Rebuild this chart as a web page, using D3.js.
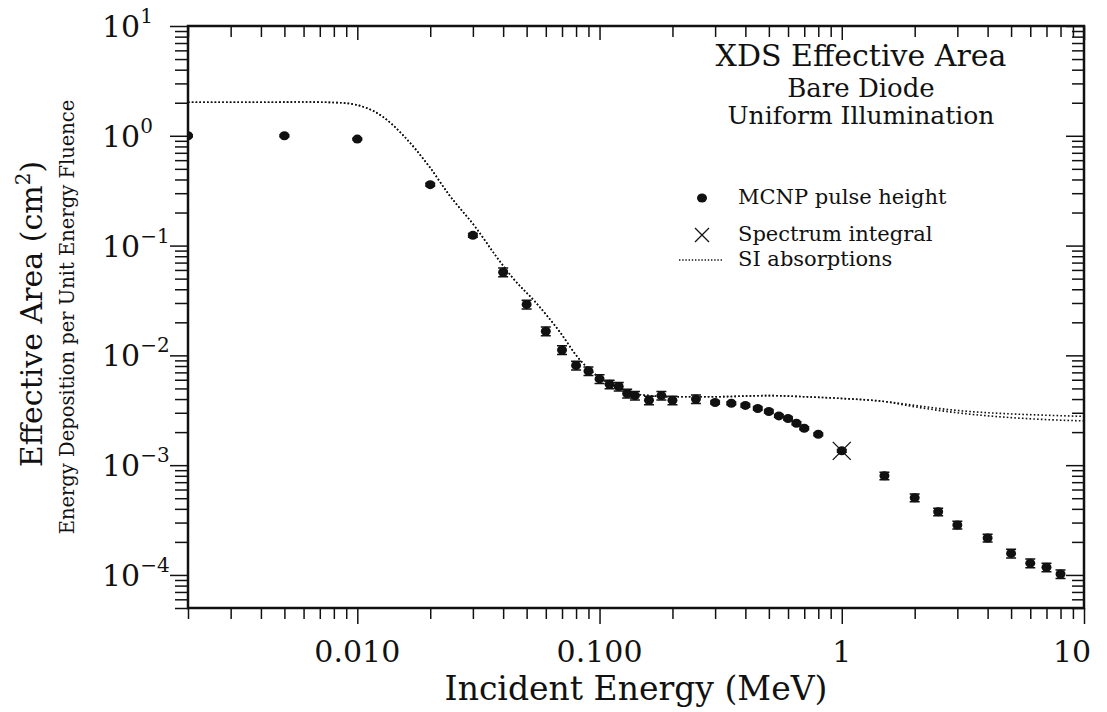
<!DOCTYPE html>
<html lang="en">
<head>
<meta charset="utf-8">
<title>XDS Effective Area</title>
<script src="https://cdn.jsdelivr.net/npm/d3@7/dist/d3.min.js"></script>
<style>
  body { margin: 0; background: #fff; }
  svg text { font-family: "DejaVu Serif", "Liberation Serif", serif; fill: #111; }
  .tick line { stroke: #111; stroke-width: 1.5; }
</style>
</head>
<body>
<div id="chart"></div>
<script>
// MCNP pulse height results (energy MeV, effective area cm^2, relative error)
const mcnpEnergy = [0.002, 0.005, 0.01, 0.02, 0.03, 0.04, 0.05, 0.06, 0.07, 0.08, 0.09, 0.1,
  0.11, 0.12, 0.13, 0.14, 0.16, 0.18, 0.2, 0.25, 0.3, 0.35, 0.4, 0.45, 0.5, 0.55, 0.6, 0.65,
  0.7, 0.8, 1.0, 1.5, 2, 2.5, 3, 4, 5, 6, 7, 8];
const mcnpArea = [1.0, 1.0, 0.933, 0.359, 0.124, 0.0572, 0.0291, 0.0166, 0.0112, 0.0081, 0.0072, 0.0061,
  0.00545, 0.0052, 0.0045, 0.0043, 0.0039, 0.0043, 0.0039, 0.0040, 0.00372, 0.00366, 0.0035, 0.00328,
  0.00308, 0.00281, 0.00266, 0.00241, 0.00217, 0.00191, 0.00135, 0.0008, 0.000505, 0.000376, 0.000285,
  0.000217, 0.000157, 0.000128, 0.0001175, 0.000102];
const mcnpErr = [0.02, 0.02, 0.02, 0.03, 0.04, 0.09, 0.09, 0.09, 0.09, 0.09, 0.09, 0.09,
  0.09, 0.09, 0.09, 0.09, 0.09, 0.09, 0.09, 0.09, 0.03, 0.03, 0.03, 0.03, 0.03, 0.03, 0.03, 0.03,
  0.03, 0.03, 0.03, 0.08, 0.08, 0.08, 0.08, 0.08, 0.09, 0.09, 0.09, 0.09];

// spectrum integral
const specEnergy = [1.0];
const specArea = [0.00135];

// SI absorptions (two nearly identical curves that part above ~2 MeV)
const siEnergy = [0.002, 0.004, 0.006, 0.008, 0.009, 0.0105, 0.0127, 0.0154, 0.0198, 0.0239, 0.0309,
  0.0374, 0.0438, 0.0547, 0.0682, 0.0826, 0.1, 0.12, 0.14, 0.16, 0.2, 0.3, 0.5, 0.7, 1, 1.5, 2, 3, 5, 7, 10];
const siAreaA = [2.02, 2.02, 2.03, 2.01, 1.98, 1.85, 1.5, 1.02, 0.526, 0.291, 0.145,
  0.08, 0.0508, 0.0301, 0.0166, 0.0092, 0.0063, 0.0051, 0.0045, 0.0043, 0.0042, 0.0042, 0.0043, 0.0042,
  0.00405, 0.0038, 0.0035, 0.00315, 0.00293, 0.00285, 0.00278];
const siAreaB = [2.02, 2.02, 2.03, 2.01, 1.98, 1.85, 1.5, 1.02, 0.526, 0.291, 0.145,
  0.08, 0.0508, 0.0301, 0.0166, 0.0092, 0.0063, 0.0051, 0.0045, 0.0043, 0.0042, 0.0042, 0.0043, 0.0042,
  0.00405, 0.0038, 0.0034, 0.0030, 0.00271, 0.0026, 0.00253];

const xMajor = [0.01, 0.1, 1, 10];
const xLabels = ["0.010", "0.100", "1", "10"];
const yMajorExp = [1, 0, -1, -2, -3, -4];

const titleLines = ["XDS Effective Area", "Bare Diode", "Uniform Illumination"];
const legendLabels = ["MCNP pulse height", "Spectrum integral", "SI absorptions"];

const w = 1107, h = 712;
const pLeft = 188, pRight = 1084, pTop = 26, pBottom = 608;

const svg = d3.select("#chart").append("svg")
  .attr("width", w).attr("height", h);

const x = d3.scaleLog().domain([0.002, 10]).range([pLeft, pRight]);
const y = d3.scaleLog().domain([5e-5, 10]).range([pBottom, pTop]);

function minors(lo, hi) {
  let out = [];
  for (let k = -6; k <= 1; k++) {
    for (let m = 2; m <= 9; m++) {
      let v = m * Math.pow(10, k);
      if (v >= lo * 0.999 && v <= hi * 1.001) out.push(v);
    }
  }
  return out;
}
const xMinor = minors(0.002, 10);
const yMinor = minors(5e-5, 10);
const yMajor = yMajorExp.map(e => Math.pow(10, e));

// ticks
function addAxis(axis, tx, ty) {
  let g = svg.append("g").attr("transform", `translate(${tx},${ty})`).call(axis);
  g.select(".domain").remove();
  g.selectAll("text").remove();
}
addAxis(d3.axisBottom(x).tickValues(xMinor).tickSize(11), 0, pBottom);
addAxis(d3.axisBottom(x).tickValues(xMajor).tickSize(16), 0, pBottom);
addAxis(d3.axisTop(x).tickValues(xMinor).tickSize(-11), 0, pTop);
addAxis(d3.axisTop(x).tickValues(xMajor).tickSize(-14), 0, pTop);
addAxis(d3.axisLeft(y).tickValues(yMinor).tickSize(13), pLeft, 0);
addAxis(d3.axisLeft(y).tickValues(yMajor).tickSize(18), pLeft, 0);
addAxis(d3.axisRight(y).tickValues(yMinor).tickSize(-12), pRight, 0);
addAxis(d3.axisRight(y).tickValues(yMajor).tickSize(-18), pRight, 0);

// frame
svg.append("rect")
  .attr("x", pLeft).attr("y", pTop)
  .attr("width", pRight - pLeft).attr("height", pBottom - pTop)
  .attr("fill", "none").attr("stroke", "#111").attr("stroke-width", 2.5);

// x tick labels
svg.selectAll(".xlab")
  .data(xMajor)
  .enter()
  .append("text")
    .attr("class", "xlab")
    .attr("x", (d, i) => x(d) - (i == xMajor.length - 1 ? 12 : 0))
    .attr("y", 662)
    .attr("text-anchor", "middle")
    .attr("font-size", 30)
    .text((d, i) => xLabels[i]);

// y tick labels 10^n
let ylab = svg.selectAll(".ylab")
  .data(yMajorExp)
  .enter()
  .append("text")
    .attr("class", "ylab")
    .attr("x", 102)
    .attr("y", (d) => y(Math.pow(10, d)) + 11)
    .attr("font-size", 30);
ylab.append("tspan").text("10");
ylab.append("tspan")
  .attr("font-size", 20)
  .attr("dy", -14)
  .text((d) => d < 0 ? "\u2212" + (-d) : d);

// axis titles
svg.append("text")
  .attr("x", (pLeft + pRight) / 2)
  .attr("y", 700)
  .attr("text-anchor", "middle")
  .attr("font-size", 33)
  .text("Incident Energy (MeV)");

let yt = svg.append("text")
  .attr("transform", `translate(42,${(pTop + pBottom) / 2 - 3}) rotate(-90)`)
  .attr("text-anchor", "middle")
  .attr("font-size", 30);
yt.append("tspan").text("Effective Area (cm");
yt.append("tspan").attr("font-size", 20).attr("dy", -12).text("2");
yt.append("tspan").attr("dy", 12).text(")");

svg.append("text")
  .attr("transform", `translate(74,${(pTop + pBottom) / 2}) rotate(-90)`)
  .attr("text-anchor", "middle")
  .attr("font-size", 19.5)
  .text("Energy Deposition per Unit Energy Fluence");

// SI absorption curves
svg.append("clipPath").attr("id", "plot-area")
  .append("rect").attr("x", pLeft).attr("y", pTop)
  .attr("width", pRight - pLeft).attr("height", pBottom - pTop);

const line = d3.line()
  .x((d) => x(d[0]))
  .y((d) => y(d[1]))
  .curve(d3.curveMonotoneX);

[siAreaA, siAreaB].forEach(function(series) {
  svg.append("path")
    .datum(siEnergy.map((e, i) => [e, series[i]]))
    .attr("clip-path", "url(#plot-area)")
    .attr("d", line)
    .attr("fill", "none")
    .attr("stroke", "#111")
    .attr("stroke-width", 1.6)
    .attr("stroke-dasharray", "1.6 2.2");
});

// MCNP points with error bars
const pts = mcnpEnergy.map((e, i) => ({ e: e, a: mcnpArea[i], err: mcnpErr[i] }));
const pg = svg.append("g").attr("clip-path", "url(#plot-area)");

pg.selectAll(".err")
  .data(pts)
  .enter()
  .append("path")
    .attr("class", "err")
    .attr("d", (d) => {
      let cx = x(d.e), y1 = y(d.a * (1 + d.err)), y2 = y(d.a * (1 - d.err));
      return `M${cx - 5},${y1}H${cx + 5}M${cx},${y1}V${y2}M${cx - 5},${y2}H${cx + 5}`;
    })
    .attr("stroke", "#111")
    .attr("stroke-width", 1.5)
    .attr("fill", "none");

pg.selectAll(".pt")
  .data(pts)
  .enter()
  .append("ellipse")
    .attr("class", "pt")
    .attr("cx", (d) => x(d.e))
    .attr("cy", (d) => y(d.a))
    .attr("rx", 5)
    .attr("ry", 4.5)
    .attr("fill", "#111");

// spectrum integral crosses
function cross(g, cx, cy, s) {
  g.append("path")
    .attr("d", `M${cx - s},${cy - s}L${cx + s},${cy + s}M${cx - s},${cy + s}L${cx + s},${cy - s}`)
    .attr("stroke", "#111")
    .attr("stroke-width", 1.3)
    .attr("fill", "none");
}
specEnergy.forEach((e, i) => cross(svg, x(e), y(specArea[i]), 9));

// title block
const titleSize = [30, 26, 25];
const titleY = [66, 97, 124];
titleLines.forEach(function(t, i) {
  svg.append("text")
    .attr("x", 861)
    .attr("y", titleY[i])
    .attr("text-anchor", "middle")
    .attr("font-size", titleSize[i])
    .text(t);
});

// legend
const legY = [198, 235, 260];
const lg = svg.append("g");
lg.append("ellipse").attr("cx", 702).attr("cy", legY[0]).attr("rx", 5).attr("ry", 4.5).attr("fill", "#111");
cross(lg, 702, legY[1], 7);
lg.append("line")
  .attr("x1", 679).attr("x2", 723)
  .attr("y1", legY[2]).attr("y2", legY[2])
  .attr("stroke", "#111").attr("stroke-width", 1.4)
  .attr("stroke-dasharray", "1.4 1.8");
legendLabels.forEach(function(t, i) {
  lg.append("text")
    .attr("x", 738)
    .attr("y", legY[i] + 6)
    .attr("font-size", 21)
    .text(t);
});
</script>
</body>
</html>
